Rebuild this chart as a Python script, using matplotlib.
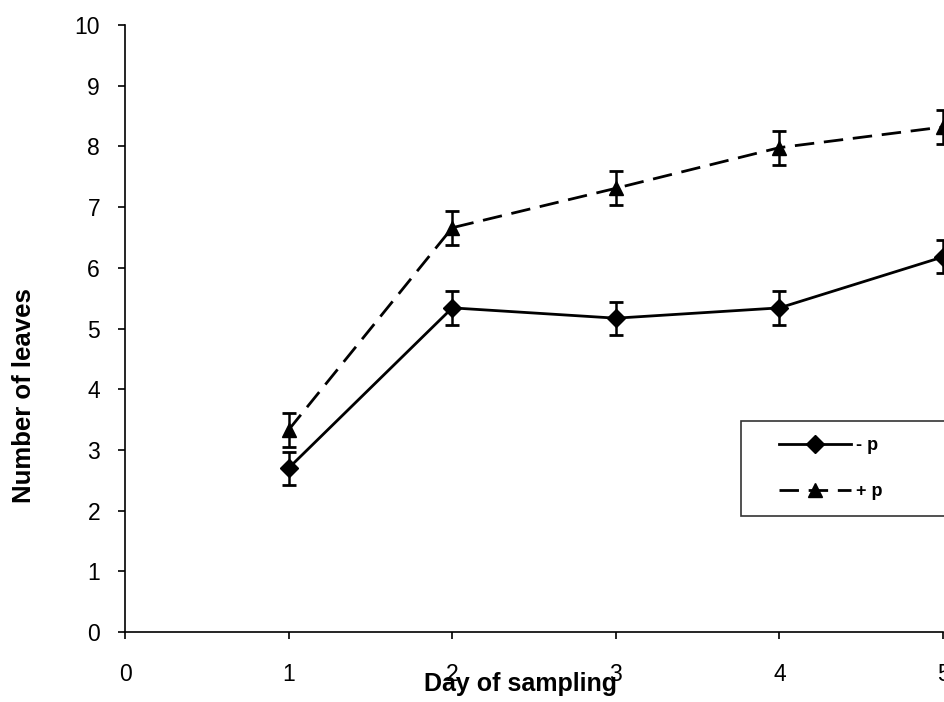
import matplotlib
matplotlib.use("Agg")
import matplotlib.pyplot as plt
from matplotlib.lines import Line2D
from matplotlib.legend_handler import HandlerLine2D
from matplotlib import font_manager

plt.rcParams['font.family'] = ['Liberation Sans', 'DejaVu Sans']

days = [1, 2, 3, 4, 5]
minus_p = [2.70, 5.34, 5.17, 5.34, 6.18]
plus_p = [3.33, 6.66, 7.31, 7.98, 8.32]
minus_err = [0.27, 0.28, 0.27, 0.28, 0.27]
plus_err = [0.28, 0.28, 0.28, 0.28, 0.28]
xticks = [0, 1, 2, 3, 4, 5]
yticks = list(range(0, 11))
labels = ['- p', '+ p']

DASH = (0, (7, 3.5))

fig = plt.figure(figsize=(9.45, 7.02), dpi=100)
ax = fig.add_axes([0.1323, 0.0997, 0.8657, 0.8647])

ax.errorbar(days, minus_p, yerr=minus_err, color='black', linestyle='-', linewidth=2,
            marker='D', markersize=9, capsize=5, capthick=2, elinewidth=1.8,
            clip_on=False, zorder=3)
ax.errorbar(days, plus_p, yerr=plus_err, color='black', linestyle=DASH, linewidth=2,
            marker='^', markersize=10, capsize=5, capthick=2, elinewidth=1.8,
            clip_on=False, zorder=3)

ax.set_xlim(0, 5)
ax.set_ylim(0, 10)
ax.set_xticks(xticks)
ax.set_yticks(yticks)
ax.tick_params(direction='out', length=5, width=1.2, labelsize=16.5)
ax.tick_params(axis='x', pad=17)
ax.tick_params(axis='y', pad=13)
for s in ['top', 'right']:
    ax.spines[s].set_visible(False)
for s in ['left', 'bottom']:
    ax.spines[s].set_linewidth(1.2)

ax.set_xlabel('Day of sampling', fontsize=18, fontweight='bold')
ax.set_ylabel('Number of leaves', fontsize=18.5, fontweight='bold')
ax.xaxis.set_label_coords(0.484, -0.086)
ax.xaxis.label.set_va('center')
ax.yaxis.set_label_coords(-0.124, 0.39)
ax.yaxis.label.set_va('center')
ax.yaxis.label.set_ha('center')

avail = {f.name for f in font_manager.fontManager.ttflist}
leg_family = ['Liberation Sans Narrow', 'Liberation Sans'] if 'Liberation Sans Narrow' in avail else ['Liberation Sans']

h1 = Line2D([], [], color='black', linestyle='-', linewidth=2, marker='D', markersize=9)
h2 = Line2D([], [], color='black', linestyle=DASH, linewidth=2, marker='^', markersize=10)
fs = 13
leg = fig.legend([h1, h2], labels, loc='upper left',
                 bbox_to_anchor=(741 / 945, (702 - 514) / 702, 0.3, (514 - 421) / 702),
                 mode='expand', frameon=True, fancybox=False,
                 edgecolor='black', fontsize=fs, handlelength=5.2, borderpad=0.9,
                 labelspacing=1.6, borderaxespad=0, handletextpad=0.28,
                 handler_map={h1: HandlerLine2D(xpad=1.22), h2: HandlerLine2D(xpad=1.22)})
leg.get_frame().set_linewidth(1.2)
for t in leg.get_texts():
    t.set_fontweight('bold')
    t.set_family(leg_family)

fig.savefig('out.png', dpi=100)
